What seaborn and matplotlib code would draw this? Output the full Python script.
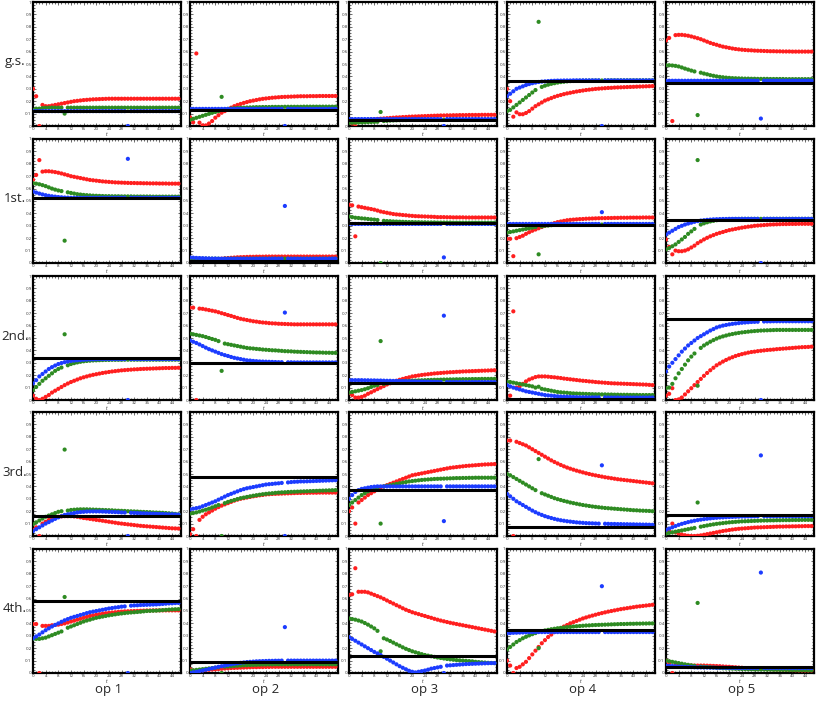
import numpy as np
import pandas as pd
import matplotlib
matplotlib.use("Agg")
import matplotlib.pyplot as plt
from matplotlib.ticker import MultipleLocator, FuncFormatter
import seaborn as sns

t = list(range(47))

# ---------------- g.s. ----------------
gs_op1_red = [0.30, 0.24, 0.00, 0.17, 0.16, 0.16, 0.165, 0.17, 0.175, 0.18, 0.185, 0.19,
              0.195, 0.20, 0.203, 0.206, 0.209, 0.211, 0.213, 0.215, 0.216, 0.217, 0.218, 0.219,
              0.22, 0.22, 0.22, 0.22, 0.22, 0.22, 0.22, 0.22, 0.22, 0.22, 0.22, 0.22,
              0.22, 0.22, 0.22, 0.22, 0.22, 0.22, 0.22, 0.22, 0.22, 0.22, 0.22]
gs_op1_green = [0.13, 0.14, 0.14, 0.145, 0.147, 0.148, 0.148, 0.148, 0.148, 0.148, 0.10, 0.148,
                0.148, 0.148, 0.148, 0.148, 0.148, 0.148, 0.148, 0.148, 0.148, 0.148, 0.148, 0.148,
                0.148, 0.148, 0.148, 0.148, 0.148, 0.148, 0.148, 0.148, 0.148, 0.148, 0.148, 0.148,
                0.148, 0.148, 0.148, 0.148, 0.148, 0.148, 0.148, 0.148, 0.148, 0.148, 0.148]
gs_op1_blue = [0.12, 0.12, 0.12, 0.12, 0.12, 0.12, 0.12, 0.12, 0.12, 0.12, 0.12, 0.12,
               0.12, 0.12, 0.12, 0.12, 0.12, 0.12, 0.12, 0.12, 0.12, 0.12, 0.12, 0.12,
               0.12, 0.12, 0.12, 0.12, 0.12, 0.12, 0.00, 0.12, 0.12, 0.12, 0.12, 0.12,
               0.12, 0.12, 0.12, 0.12, 0.12, 0.12, 0.12, 0.12, 0.12, 0.12, 0.12]
gs_op1_black = 0.125

gs_op2_red = [0.07, 0.03, 0.585, 0.027, 0.005, 0.005, 0.02, 0.04, 0.067, 0.087, 0.107, 0.12,
              0.135, 0.148, 0.16, 0.17, 0.178, 0.186, 0.193, 0.20, 0.205, 0.21, 0.215, 0.219,
              0.222, 0.225, 0.228, 0.23, 0.232, 0.234, 0.235, 0.236, 0.237, 0.238, 0.239, 0.24,
              0.24, 0.24, 0.241, 0.241, 0.241, 0.242, 0.242, 0.242, 0.242, 0.242, 0.242]
gs_op2_green = [0.05, 0.058, 0.066, 0.074, 0.082, 0.09, 0.098, 0.106, 0.113, 0.12, 0.235, 0.135,
                0.138, 0.141, 0.143, 0.145, 0.147, 0.148, 0.149, 0.15, 0.151, 0.152, 0.152, 0.153,
                0.153, 0.153, 0.154, 0.154, 0.154, 0.154, 0.155, 0.155, 0.155, 0.155, 0.155, 0.155,
                0.156, 0.156, 0.156, 0.156, 0.156, 0.156, 0.156, 0.156, 0.156, 0.156, 0.156]
gs_op2_blue = [0.138, 0.138, 0.138, 0.138, 0.138, 0.138, 0.138, 0.138, 0.138, 0.138, 0.138, 0.138,
               0.138, 0.138, 0.138, 0.138, 0.138, 0.138, 0.138, 0.138, 0.138, 0.138, 0.138, 0.138,
               0.138, 0.138, 0.138, 0.138, 0.138, 0.138, 0.00, 0.138, 0.138, 0.138, 0.138, 0.138,
               0.138, 0.138, 0.138, 0.138, 0.138, 0.138, 0.138, 0.138, 0.138, 0.138, 0.138]
gs_op2_black = 0.133

gs_op3_red = [0.04, 0.02, 0.00, 0.04, 0.045, 0.048, 0.05, 0.053, 0.055, 0.057, 0.059, 0.061,
              0.063, 0.065, 0.067, 0.069, 0.07, 0.072, 0.073, 0.075, 0.076, 0.077, 0.078, 0.079,
              0.08, 0.081, 0.082, 0.083, 0.084, 0.085, 0.085, 0.086, 0.086, 0.087, 0.087, 0.088,
              0.088, 0.088, 0.089, 0.089, 0.089, 0.089, 0.09, 0.09, 0.09, 0.09, 0.09]
gs_op3_green = [0.025, 0.026, 0.027, 0.028, 0.029, 0.03, 0.031, 0.032, 0.033, 0.034, 0.113, 0.04,
                0.042, 0.044, 0.045, 0.046, 0.047, 0.048, 0.048, 0.049, 0.049, 0.05, 0.05, 0.05,
                0.05, 0.05, 0.05, 0.05, 0.05, 0.05, 0.05, 0.05, 0.05, 0.05, 0.05, 0.05,
                0.05, 0.05, 0.05, 0.05, 0.05, 0.05, 0.05, 0.05, 0.05, 0.05, 0.05]
gs_op3_blue = [0.056, 0.056, 0.056, 0.056, 0.056, 0.056, 0.056, 0.056, 0.056, 0.056, 0.056, 0.056,
               0.056, 0.056, 0.056, 0.056, 0.056, 0.056, 0.056, 0.056, 0.056, 0.056, 0.056, 0.056,
               0.056, 0.056, 0.056, 0.056, 0.056, 0.056, 0.00, 0.056, 0.056, 0.056, 0.056, 0.056,
               0.056, 0.056, 0.056, 0.056, 0.056, 0.056, 0.056, 0.056, 0.056, 0.056, 0.056]
gs_op3_black = 0.05

gs_op4_red = [0.30, 0.20, 0.075, 0.11, 0.095, 0.095, 0.105, 0.12, 0.14, 0.16, 0.175, 0.19,
              0.205, 0.215, 0.225, 0.235, 0.243, 0.25, 0.257, 0.263, 0.268, 0.273, 0.278, 0.282,
              0.286, 0.29, 0.293, 0.296, 0.299, 0.301, 0.303, 0.305, 0.307, 0.308, 0.31, 0.311,
              0.312, 0.313, 0.314, 0.315, 0.316, 0.317, 0.318, 0.319, 0.32, 0.321, 0.322]
gs_op4_green = [0.12, 0.13, 0.15, 0.17, 0.19, 0.21, 0.23, 0.25, 0.27, 0.29, 0.84, 0.315,
                0.325, 0.333, 0.34, 0.345, 0.35, 0.354, 0.357, 0.36, 0.362, 0.363, 0.364, 0.365,
                0.366, 0.366, 0.366, 0.367, 0.367, 0.367, 0.367, 0.367, 0.368, 0.368, 0.368, 0.368,
                0.368, 0.368, 0.368, 0.368, 0.368, 0.368, 0.368, 0.368, 0.368, 0.368, 0.368]
gs_op4_blue = [0.24, 0.26, 0.28, 0.30, 0.31, 0.32, 0.33, 0.338, 0.345, 0.35, 0.355, 0.358,
               0.36, 0.362, 0.364, 0.365, 0.366, 0.366, 0.367, 0.367, 0.367, 0.368, 0.368, 0.368,
               0.368, 0.368, 0.368, 0.368, 0.368, 0.368, 0.00, 0.368, 0.368, 0.368, 0.368, 0.368,
               0.368, 0.368, 0.368, 0.368, 0.368, 0.368, 0.368, 0.368, 0.368, 0.368, 0.368]
gs_op4_black = 0.36

gs_op5_red = [0.69, 0.71, 0.04, 0.733, 0.735, 0.735, 0.732, 0.728, 0.722, 0.715, 0.708, 0.70,
              0.69, 0.68, 0.67, 0.662, 0.655, 0.647, 0.64, 0.635, 0.63, 0.625, 0.621, 0.618,
              0.615, 0.613, 0.611, 0.61, 0.608, 0.607, 0.606, 0.605, 0.604, 0.603, 0.603, 0.602,
              0.602, 0.601, 0.601, 0.601, 0.60, 0.60, 0.60, 0.60, 0.60, 0.60, 0.60]
gs_op5_green = [0.49, 0.49, 0.488, 0.485, 0.48, 0.472, 0.463, 0.455, 0.447, 0.44, 0.088, 0.43,
                0.423, 0.417, 0.41, 0.405, 0.40, 0.396, 0.393, 0.39, 0.388, 0.386, 0.385, 0.384,
                0.383, 0.382, 0.382, 0.381, 0.381, 0.38, 0.38, 0.38, 0.38, 0.379, 0.379, 0.379,
                0.379, 0.379, 0.378, 0.378, 0.378, 0.378, 0.378, 0.378, 0.378, 0.378, 0.378]
gs_op5_blue = [0.365, 0.365, 0.365, 0.365, 0.365, 0.365, 0.365, 0.365, 0.365, 0.365, 0.365, 0.365,
               0.365, 0.365, 0.365, 0.365, 0.365, 0.365, 0.365, 0.365, 0.365, 0.365, 0.365, 0.365,
               0.365, 0.365, 0.365, 0.365, 0.365, 0.365, 0.06, 0.365, 0.365, 0.365, 0.365, 0.365,
               0.365, 0.365, 0.365, 0.365, 0.365, 0.365, 0.365, 0.365, 0.365, 0.365, 0.365]
gs_op5_black = 0.35

# ---------------- 1st. ----------------
st_op1_red = [0.67, 0.71, 0.83, 0.737, 0.74, 0.74, 0.737, 0.733, 0.728, 0.722, 0.715, 0.708,
              0.70, 0.695, 0.69, 0.685, 0.68, 0.675, 0.67, 0.667, 0.664, 0.661, 0.658, 0.656,
              0.654, 0.652, 0.65, 0.649, 0.648, 0.647, 0.646, 0.645, 0.645, 0.644, 0.644, 0.643,
              0.643, 0.642, 0.642, 0.642, 0.641, 0.641, 0.641, 0.64, 0.64, 0.64, 0.64]
st_op1_green = [0.643, 0.64, 0.635, 0.628, 0.62, 0.61, 0.60, 0.592, 0.585, 0.58, 0.18, 0.57,
                0.565, 0.56, 0.555, 0.552, 0.549, 0.547, 0.545, 0.543, 0.542, 0.541, 0.54, 0.539,
                0.539, 0.538, 0.538, 0.538, 0.537, 0.537, 0.537, 0.537, 0.536, 0.536, 0.536, 0.536,
                0.536, 0.536, 0.535, 0.535, 0.535, 0.535, 0.535, 0.535, 0.535, 0.535, 0.535]
st_op1_blue = [0.576, 0.568, 0.56, 0.553, 0.547, 0.542, 0.538, 0.535, 0.532, 0.53, 0.528, 0.527,
               0.526, 0.526, 0.526, 0.526, 0.526, 0.526, 0.526, 0.526, 0.526, 0.526, 0.526, 0.526,
               0.526, 0.526, 0.526, 0.526, 0.526, 0.526, 0.84, 0.526, 0.526, 0.526, 0.526, 0.526,
               0.526, 0.526, 0.526, 0.526, 0.526, 0.526, 0.526, 0.526, 0.526, 0.526, 0.526]
st_op1_black = 0.523

st_op2_red = [0.02, 0.015, 0.005, 0.01, 0.015, 0.018, 0.02, 0.025, 0.03, 0.032, 0.035, 0.038,
              0.04, 0.042, 0.044, 0.046, 0.047, 0.048, 0.049, 0.05, 0.05, 0.051, 0.051, 0.051,
              0.052, 0.052, 0.052, 0.052, 0.052, 0.052, 0.052, 0.052, 0.052, 0.052, 0.052, 0.052,
              0.052, 0.052, 0.052, 0.052, 0.052, 0.052, 0.052, 0.052, 0.052, 0.052, 0.052]
st_op2_green = [0.035, 0.035, 0.035, 0.035, 0.035, 0.035, 0.035, 0.035, 0.035, 0.035, 0.0, 0.035,
                0.035, 0.035, 0.035, 0.035, 0.035, 0.035, 0.035, 0.035, 0.035, 0.035, 0.035, 0.035,
                0.035, 0.035, 0.035, 0.035, 0.035, 0.035, 0.035, 0.035, 0.035, 0.035, 0.035, 0.035,
                0.035, 0.035, 0.035, 0.035, 0.035, 0.035, 0.035, 0.035, 0.035, 0.035, 0.035]
st_op2_blue = [0.045, 0.043, 0.041, 0.04, 0.039, 0.038, 0.037, 0.036, 0.036, 0.035, 0.035, 0.035,
               0.035, 0.035, 0.035, 0.035, 0.035, 0.035, 0.035, 0.035, 0.035, 0.035, 0.035, 0.035,
               0.035, 0.035, 0.035, 0.035, 0.035, 0.035, 0.46, 0.035, 0.035, 0.035, 0.035, 0.035,
               0.035, 0.035, 0.035, 0.035, 0.035, 0.035, 0.035, 0.035, 0.035, 0.035, 0.035]
st_op2_black = 0.013

st_op3_red = [0.47, 0.465, 0.215, 0.455, 0.45, 0.445, 0.44, 0.435, 0.43, 0.423, 0.415, 0.41,
              0.405, 0.40, 0.395, 0.392, 0.39, 0.387, 0.385, 0.382, 0.38, 0.378, 0.377, 0.376,
              0.375, 0.374, 0.373, 0.372, 0.37, 0.37, 0.37, 0.369, 0.369, 0.368, 0.368, 0.368,
              0.368, 0.367, 0.367, 0.367, 0.367, 0.367, 0.367, 0.367, 0.367, 0.367, 0.367]
st_op3_green = [0.375, 0.37, 0.365, 0.363, 0.36, 0.358, 0.355, 0.352, 0.35, 0.347, 0.0, 0.34,
                0.338, 0.337, 0.335, 0.334, 0.333, 0.332, 0.331, 0.33, 0.33, 0.329, 0.329, 0.328,
                0.328, 0.327, 0.327, 0.327, 0.326, 0.326, 0.326, 0.326, 0.326, 0.325, 0.325, 0.325,
                0.325, 0.325, 0.325, 0.325, 0.325, 0.325, 0.325, 0.325, 0.325, 0.325, 0.325]
st_op3_blue = [0.315, 0.315, 0.315, 0.315, 0.315, 0.315, 0.315, 0.315, 0.315, 0.315, 0.315, 0.315,
               0.315, 0.315, 0.315, 0.315, 0.315, 0.315, 0.315, 0.315, 0.315, 0.315, 0.315, 0.315,
               0.315, 0.315, 0.315, 0.315, 0.315, 0.315, 0.045, 0.315, 0.315, 0.315, 0.315, 0.315,
               0.315, 0.315, 0.315, 0.315, 0.315, 0.315, 0.315, 0.315, 0.315, 0.315, 0.315]
st_op3_black = 0.32

st_op4_red = [0.195, 0.195, 0.055, 0.20, 0.21, 0.22, 0.235, 0.248, 0.26, 0.27, 0.28, 0.29,
              0.30, 0.308, 0.315, 0.322, 0.33, 0.335, 0.34, 0.345, 0.348, 0.35, 0.352, 0.354,
              0.355, 0.357, 0.358, 0.359, 0.36, 0.361, 0.362, 0.362, 0.363, 0.363, 0.364, 0.364,
              0.365, 0.365, 0.365, 0.366, 0.366, 0.366, 0.366, 0.367, 0.367, 0.367, 0.367]
st_op4_green = [0.245, 0.25, 0.255, 0.26, 0.265, 0.27, 0.275, 0.28, 0.285, 0.29, 0.07, 0.295,
                0.30, 0.302, 0.305, 0.307, 0.308, 0.309, 0.31, 0.31, 0.31, 0.31, 0.31, 0.31,
                0.31, 0.31, 0.31, 0.31, 0.31, 0.31, 0.31, 0.31, 0.31, 0.31, 0.31, 0.31,
                0.31, 0.31, 0.31, 0.31, 0.31, 0.31, 0.31, 0.31, 0.31, 0.31, 0.31]
st_op4_blue = [0.315, 0.315, 0.315, 0.315, 0.315, 0.315, 0.315, 0.315, 0.315, 0.315, 0.315, 0.315,
               0.315, 0.315, 0.315, 0.315, 0.315, 0.315, 0.315, 0.315, 0.315, 0.315, 0.315, 0.315,
               0.315, 0.315, 0.315, 0.315, 0.315, 0.315, 0.41, 0.315, 0.315, 0.315, 0.315, 0.315,
               0.315, 0.315, 0.315, 0.315, 0.315, 0.315, 0.315, 0.315, 0.315, 0.315, 0.315]
st_op4_black = 0.303

st_op5_red = [0.19, 0.13, 0.07, 0.10, 0.095, 0.095, 0.10, 0.11, 0.125, 0.14, 0.16, 0.175,
              0.19, 0.203, 0.215, 0.225, 0.235, 0.243, 0.25, 0.258, 0.265, 0.27, 0.275, 0.28,
              0.285, 0.289, 0.293, 0.296, 0.30, 0.302, 0.304, 0.306, 0.308, 0.31, 0.311, 0.312,
              0.313, 0.314, 0.314, 0.315, 0.315, 0.315, 0.316, 0.316, 0.316, 0.316, 0.316]
st_op5_green = [0.11, 0.12, 0.135, 0.15, 0.17, 0.19, 0.21, 0.235, 0.255, 0.275, 0.83, 0.31,
                0.32, 0.328, 0.335, 0.34, 0.345, 0.348, 0.35, 0.352, 0.353, 0.354, 0.355, 0.355,
                0.356, 0.356, 0.356, 0.356, 0.356, 0.356, 0.356, 0.356, 0.356, 0.356, 0.356, 0.356,
                0.356, 0.356, 0.356, 0.356, 0.356, 0.356, 0.356, 0.356, 0.356, 0.356, 0.356]
st_op5_blue = [0.23, 0.245, 0.26, 0.275, 0.29, 0.30, 0.31, 0.318, 0.325, 0.332, 0.338, 0.342,
               0.345, 0.348, 0.35, 0.352, 0.353, 0.354, 0.355, 0.355, 0.356, 0.356, 0.356, 0.356,
               0.356, 0.356, 0.356, 0.356, 0.356, 0.356, 0.0, 0.356, 0.356, 0.356, 0.356, 0.356,
               0.356, 0.356, 0.356, 0.356, 0.356, 0.356, 0.356, 0.356, 0.356, 0.356, 0.356]
st_op5_black = 0.35

# ---------------- 2nd. ----------------
nd_op1_red = [0.035, 0.01, 0.0, 0.01, 0.025, 0.04, 0.06, 0.075, 0.09, 0.105, 0.12, 0.133,
              0.145, 0.155, 0.165, 0.175, 0.183, 0.19, 0.197, 0.203, 0.208, 0.213, 0.218, 0.222,
              0.226, 0.23, 0.233, 0.236, 0.239, 0.241, 0.243, 0.245, 0.247, 0.248, 0.25, 0.251,
              0.252, 0.253, 0.254, 0.255, 0.256, 0.257, 0.258, 0.258, 0.259, 0.259, 0.26]
nd_op1_green = [0.08, 0.105, 0.13, 0.155, 0.175, 0.195, 0.215, 0.235, 0.25, 0.262, 0.53, 0.28,
                0.29, 0.297, 0.303, 0.308, 0.312, 0.315, 0.317, 0.319, 0.32, 0.321, 0.322, 0.323,
                0.323, 0.324, 0.324, 0.324, 0.324, 0.325, 0.325, 0.325, 0.325, 0.325, 0.325, 0.325,
                0.325, 0.325, 0.325, 0.325, 0.325, 0.325, 0.325, 0.325, 0.325, 0.325, 0.325]
nd_op1_blue = [0.134, 0.16, 0.19, 0.21, 0.23, 0.25, 0.265, 0.278, 0.29, 0.298, 0.305, 0.31,
               0.315, 0.318, 0.32, 0.322, 0.324, 0.326, 0.327, 0.328, 0.329, 0.33, 0.33, 0.33,
               0.33, 0.33, 0.33, 0.33, 0.33, 0.33, 0.0, 0.33, 0.33, 0.33, 0.33, 0.33,
               0.33, 0.33, 0.33, 0.33, 0.33, 0.33, 0.33, 0.33, 0.33, 0.33, 0.33]
nd_op1_black = 0.335

nd_op2_red = [0.745, 0.745, 0.0, 0.737, 0.735, 0.73, 0.725, 0.72, 0.715, 0.708, 0.70, 0.693,
              0.685, 0.678, 0.67, 0.662, 0.655, 0.65, 0.645, 0.64, 0.635, 0.632, 0.628, 0.625,
              0.623, 0.62, 0.618, 0.617, 0.615, 0.614, 0.613, 0.612, 0.611, 0.61, 0.61, 0.61,
              0.61, 0.61, 0.61, 0.61, 0.61, 0.61, 0.61, 0.61, 0.61, 0.61, 0.61]
nd_op2_green = [0.535, 0.53, 0.525, 0.52, 0.515, 0.508, 0.50, 0.492, 0.485, 0.475, 0.235, 0.455,
                0.45, 0.445, 0.44, 0.435, 0.43, 0.425, 0.42, 0.417, 0.415, 0.412, 0.41, 0.407,
                0.405, 0.403, 0.401, 0.40, 0.398, 0.396, 0.394, 0.393, 0.392, 0.39, 0.389, 0.388,
                0.387, 0.386, 0.385, 0.384, 0.383, 0.383, 0.382, 0.381, 0.381, 0.38, 0.38]
nd_op2_blue = [0.48, 0.47, 0.46, 0.448, 0.435, 0.422, 0.41, 0.40, 0.39, 0.38, 0.37, 0.362,
               0.355, 0.347, 0.34, 0.335, 0.33, 0.325, 0.32, 0.318, 0.315, 0.313, 0.311, 0.31,
               0.309, 0.308, 0.307, 0.306, 0.305, 0.305, 0.705, 0.304, 0.304, 0.303, 0.303, 0.303,
               0.303, 0.303, 0.303, 0.303, 0.303, 0.303, 0.303, 0.303, 0.303, 0.303, 0.303]
nd_op2_black = 0.30

nd_op3_red = [0.055, 0.04, 0.02, 0.02, 0.025, 0.035, 0.05, 0.062, 0.075, 0.088, 0.10, 0.112,
              0.125, 0.135, 0.145, 0.155, 0.163, 0.17, 0.177, 0.183, 0.19, 0.194, 0.198, 0.202,
              0.205, 0.208, 0.211, 0.214, 0.216, 0.218, 0.22, 0.222, 0.224, 0.225, 0.227, 0.228,
              0.23, 0.231, 0.232, 0.233, 0.234, 0.235, 0.236, 0.237, 0.238, 0.239, 0.24]
nd_op3_green = [0.06, 0.065, 0.07, 0.075, 0.08, 0.087, 0.095, 0.105, 0.115, 0.12, 0.475, 0.13,
                0.135, 0.14, 0.145, 0.148, 0.15, 0.152, 0.154, 0.155, 0.156, 0.157, 0.158, 0.159,
                0.16, 0.161, 0.162, 0.163, 0.163, 0.164, 0.165, 0.165, 0.166, 0.166, 0.167, 0.167,
                0.168, 0.168, 0.168, 0.169, 0.169, 0.169, 0.17, 0.17, 0.17, 0.17, 0.17]
nd_op3_blue = [0.16, 0.16, 0.16, 0.16, 0.16, 0.159, 0.159, 0.158, 0.158, 0.157, 0.157, 0.156,
               0.155, 0.155, 0.154, 0.154, 0.153, 0.152, 0.152, 0.151, 0.15, 0.15, 0.149, 0.149,
               0.148, 0.148, 0.147, 0.147, 0.146, 0.146, 0.68, 0.145, 0.145, 0.145, 0.145, 0.145,
               0.145, 0.145, 0.145, 0.145, 0.145, 0.145, 0.145, 0.145, 0.145, 0.145, 0.145]
nd_op3_black = 0.14

nd_op4_red = [0.0, 0.035, 0.715, 0.10, 0.11, 0.13, 0.15, 0.165, 0.175, 0.185, 0.19, 0.19,
              0.19, 0.188, 0.185, 0.183, 0.18, 0.177, 0.173, 0.17, 0.167, 0.164, 0.161, 0.158,
              0.155, 0.153, 0.15, 0.148, 0.145, 0.143, 0.141, 0.139, 0.137, 0.135, 0.134, 0.133,
              0.132, 0.131, 0.13, 0.129, 0.128, 0.127, 0.126, 0.125, 0.124, 0.122, 0.12]
nd_op4_green = [0.148, 0.145, 0.14, 0.135, 0.13, 0.125, 0.12, 0.115, 0.11, 0.10, 0.107, 0.09,
                0.085, 0.08, 0.075, 0.07, 0.065, 0.062, 0.06, 0.058, 0.055, 0.053, 0.052, 0.051,
                0.05, 0.049, 0.048, 0.047, 0.046, 0.046, 0.045, 0.045, 0.044, 0.044, 0.043, 0.043,
                0.042, 0.042, 0.042, 0.041, 0.041, 0.041, 0.04, 0.04, 0.04, 0.04, 0.04]
nd_op4_blue = [0.12, 0.11, 0.10, 0.092, 0.085, 0.078, 0.07, 0.065, 0.06, 0.055, 0.05, 0.045,
               0.04, 0.037, 0.035, 0.032, 0.03, 0.028, 0.027, 0.026, 0.025, 0.024, 0.023, 0.022,
               0.022, 0.022, 0.021, 0.021, 0.021, 0.021, 0.0, 0.021, 0.02, 0.02, 0.02, 0.02,
               0.02, 0.02, 0.02, 0.02, 0.02, 0.02, 0.02, 0.02, 0.02, 0.02, 0.02]
nd_op4_black = 0.01

nd_op5_red = [0.035, 0.05, 0.095, 0.0, 0.005, 0.02, 0.045, 0.07, 0.095, 0.12, 0.145, 0.17,
              0.195, 0.218, 0.24, 0.26, 0.28, 0.295, 0.31, 0.323, 0.335, 0.345, 0.355, 0.363,
              0.37, 0.376, 0.382, 0.387, 0.39, 0.394, 0.397, 0.40, 0.403, 0.405, 0.407, 0.41,
              0.412, 0.414, 0.416, 0.418, 0.42, 0.422, 0.424, 0.426, 0.427, 0.428, 0.43]
nd_op5_green = [0.095, 0.10, 0.13, 0.175, 0.215, 0.25, 0.285, 0.32, 0.35, 0.375, 0.115, 0.42,
                0.44, 0.455, 0.47, 0.483, 0.495, 0.505, 0.513, 0.52, 0.527, 0.532, 0.537, 0.541,
                0.545, 0.548, 0.551, 0.554, 0.556, 0.558, 0.56, 0.561, 0.562, 0.563, 0.564, 0.565,
                0.565, 0.565, 0.565, 0.565, 0.565, 0.565, 0.565, 0.565, 0.565, 0.565, 0.565]
nd_op5_blue = [0.23, 0.27, 0.30, 0.33, 0.36, 0.39, 0.415, 0.44, 0.46, 0.48, 0.50, 0.515,
               0.53, 0.545, 0.56, 0.572, 0.585, 0.593, 0.60, 0.605, 0.61, 0.614, 0.617, 0.62,
               0.623, 0.625, 0.627, 0.629, 0.63, 0.631, 0.0, 0.633, 0.634, 0.634, 0.635, 0.635,
               0.635, 0.635, 0.635, 0.635, 0.635, 0.635, 0.635, 0.635, 0.635, 0.635, 0.635]
nd_op5_black = 0.65

# ---------------- 3rd. ----------------
rd_op1_red = [0.05, 0.07, 0.0, 0.10, 0.115, 0.13, 0.14, 0.148, 0.155, 0.158, 0.16, 0.16,
              0.16, 0.158, 0.155, 0.15, 0.145, 0.142, 0.138, 0.134, 0.13, 0.127, 0.123, 0.119,
              0.115, 0.111, 0.107, 0.103, 0.1, 0.097, 0.094, 0.091, 0.088, 0.085, 0.082, 0.08,
              0.078, 0.076, 0.074, 0.072, 0.07, 0.068, 0.066, 0.064, 0.062, 0.061, 0.06]
rd_op1_green = [0.095, 0.11, 0.125, 0.14, 0.155, 0.165, 0.175, 0.185, 0.195, 0.2, 0.697, 0.205,
                0.21, 0.212, 0.214, 0.215, 0.215, 0.215, 0.214, 0.213, 0.212, 0.211, 0.21, 0.209,
                0.208, 0.207, 0.205, 0.204, 0.203, 0.202, 0.2, 0.199, 0.198, 0.197, 0.195, 0.194,
                0.193, 0.192, 0.19, 0.189, 0.188, 0.187, 0.185, 0.183, 0.181, 0.178, 0.175]
rd_op1_blue = [0.04, 0.055, 0.07, 0.085, 0.10, 0.112, 0.125, 0.138, 0.15, 0.16, 0.17, 0.175,
               0.18, 0.185, 0.19, 0.193, 0.195, 0.197, 0.198, 0.198, 0.198, 0.198, 0.197, 0.196,
               0.195, 0.194, 0.193, 0.192, 0.19, 0.189, 0.0, 0.187, 0.186, 0.185, 0.184, 0.183,
               0.182, 0.181, 0.18, 0.179, 0.178, 0.177, 0.176, 0.175, 0.175, 0.174, 0.173]
rd_op1_black = 0.16

rd_op2_red = [0.015, 0.055, 0.0, 0.13, 0.155, 0.175, 0.19, 0.205, 0.22, 0.233, 0.245, 0.255,
              0.265, 0.275, 0.285, 0.293, 0.30, 0.305, 0.31, 0.315, 0.32, 0.324, 0.328, 0.331,
              0.335, 0.337, 0.339, 0.34, 0.341, 0.342, 0.343, 0.344, 0.345, 0.346, 0.347, 0.347,
              0.348, 0.348, 0.349, 0.349, 0.349, 0.35, 0.35, 0.35, 0.35, 0.35, 0.35]
rd_op2_green = [0.18, 0.185, 0.19, 0.197, 0.205, 0.212, 0.22, 0.23, 0.24, 0.25, 0.0, 0.265,
                0.275, 0.283, 0.29, 0.298, 0.305, 0.31, 0.315, 0.32, 0.325, 0.329, 0.333, 0.337,
                0.34, 0.343, 0.345, 0.348, 0.35, 0.352, 0.353, 0.355, 0.356, 0.357, 0.358, 0.359,
                0.36, 0.361, 0.362, 0.363, 0.364, 0.365, 0.366, 0.367, 0.368, 0.369, 0.37]
rd_op2_blue = [0.215, 0.22, 0.225, 0.23, 0.24, 0.25, 0.26, 0.27, 0.28, 0.293, 0.305, 0.318,
               0.33, 0.34, 0.35, 0.36, 0.37, 0.378, 0.385, 0.39, 0.395, 0.40, 0.405, 0.41,
               0.415, 0.418, 0.42, 0.423, 0.425, 0.428, 0.0, 0.432, 0.435, 0.437, 0.438, 0.44,
               0.44, 0.441, 0.442, 0.443, 0.444, 0.445, 0.446, 0.447, 0.448, 0.449, 0.45]
rd_op2_black = 0.475

rd_op3_red = [0.20, 0.23, 0.10, 0.27, 0.29, 0.31, 0.33, 0.345, 0.36, 0.375, 0.39, 0.40,
              0.41, 0.42, 0.43, 0.44, 0.45, 0.46, 0.47, 0.48, 0.49, 0.495, 0.50, 0.505,
              0.51, 0.515, 0.52, 0.525, 0.53, 0.535, 0.54, 0.545, 0.55, 0.553, 0.556, 0.559,
              0.562, 0.565, 0.567, 0.569, 0.571, 0.573, 0.575, 0.577, 0.578, 0.579, 0.58]
rd_op3_green = [0.25, 0.27, 0.29, 0.31, 0.33, 0.345, 0.36, 0.37, 0.38, 0.39, 0.10, 0.40,
                0.405, 0.41, 0.415, 0.42, 0.425, 0.43, 0.435, 0.44, 0.443, 0.446, 0.449, 0.452,
                0.454, 0.456, 0.458, 0.46, 0.461, 0.462, 0.463, 0.464, 0.465, 0.466, 0.467, 0.467,
                0.468, 0.468, 0.469, 0.469, 0.47, 0.47, 0.47, 0.47, 0.47, 0.47, 0.47]
rd_op3_blue = [0.30, 0.33, 0.355, 0.37, 0.38, 0.385, 0.39, 0.395, 0.398, 0.40, 0.40, 0.40,
               0.40, 0.40, 0.40, 0.40, 0.40, 0.40, 0.40, 0.40, 0.40, 0.40, 0.40, 0.40,
               0.40, 0.40, 0.40, 0.40, 0.40, 0.40, 0.12, 0.40, 0.40, 0.40, 0.40, 0.40,
               0.40, 0.40, 0.40, 0.40, 0.40, 0.40, 0.40, 0.40, 0.40, 0.40, 0.40]
rd_op3_black = 0.37

rd_op4_red = [0.77, 0.77, 0.0, 0.76, 0.75, 0.74, 0.73, 0.715, 0.70, 0.685, 0.67, 0.655,
              0.64, 0.625, 0.61, 0.597, 0.585, 0.573, 0.562, 0.552, 0.543, 0.535, 0.527, 0.52,
              0.513, 0.506, 0.5, 0.494, 0.489, 0.484, 0.479, 0.474, 0.47, 0.466, 0.462, 0.458,
              0.455, 0.452, 0.449, 0.446, 0.443, 0.44, 0.437, 0.434, 0.431, 0.428, 0.425]
rd_op4_green = [0.50, 0.49, 0.475, 0.46, 0.445, 0.43, 0.415, 0.40, 0.385, 0.37, 0.62, 0.345,
                0.335, 0.325, 0.315, 0.305, 0.297, 0.29, 0.283, 0.277, 0.27, 0.265, 0.26, 0.255,
                0.25, 0.246, 0.242, 0.238, 0.235, 0.232, 0.229, 0.226, 0.224, 0.222, 0.22, 0.218,
                0.216, 0.214, 0.212, 0.21, 0.208, 0.207, 0.205, 0.204, 0.203, 0.202, 0.20]
rd_op4_blue = [0.34, 0.32, 0.30, 0.28, 0.265, 0.25, 0.235, 0.22, 0.205, 0.192, 0.18, 0.17,
               0.16, 0.152, 0.145, 0.138, 0.132, 0.127, 0.123, 0.119, 0.116, 0.113, 0.11, 0.108,
               0.106, 0.104, 0.103, 0.102, 0.101, 0.1, 0.57, 0.099, 0.098, 0.097, 0.097, 0.096,
               0.096, 0.095, 0.095, 0.094, 0.094, 0.093, 0.093, 0.092, 0.092, 0.091, 0.09]
rd_op4_black = 0.07

rd_op5_red = [0.05, 0.04, 0.10, 0.03, 0.02, 0.012, 0.006, 0.002, 0.0, 0.0, 0.002, 0.005,
              0.01, 0.015, 0.02, 0.025, 0.03, 0.035, 0.04, 0.044, 0.048, 0.052, 0.055, 0.058,
              0.06, 0.062, 0.064, 0.066, 0.068, 0.069, 0.07, 0.071, 0.072, 0.073, 0.074, 0.075,
              0.076, 0.076, 0.077, 0.077, 0.078, 0.078, 0.079, 0.079, 0.08, 0.08, 0.08]
rd_op5_green = [0.02, 0.025, 0.03, 0.035, 0.04, 0.045, 0.05, 0.055, 0.06, 0.065, 0.27, 0.075,
                0.08, 0.085, 0.09, 0.094, 0.098, 0.101, 0.104, 0.107, 0.11, 0.112, 0.114, 0.116,
                0.118, 0.119, 0.12, 0.121, 0.122, 0.123, 0.124, 0.125, 0.125, 0.126, 0.126, 0.127,
                0.127, 0.128, 0.128, 0.128, 0.129, 0.129, 0.129, 0.13, 0.13, 0.13, 0.13]
rd_op5_blue = [0.05, 0.06, 0.07, 0.08, 0.09, 0.098, 0.105, 0.112, 0.118, 0.123, 0.128, 0.132,
               0.136, 0.139, 0.142, 0.145, 0.147, 0.149, 0.15, 0.152, 0.153, 0.154, 0.155, 0.156,
               0.157, 0.157, 0.158, 0.158, 0.159, 0.159, 0.65, 0.16, 0.16, 0.16, 0.16, 0.16,
               0.16, 0.16, 0.16, 0.16, 0.16, 0.16, 0.16, 0.16, 0.16, 0.16, 0.16]
rd_op5_black = 0.17

# ---------------- 4th. ----------------
th_op1_red = [0.395, 0.395, 0.0, 0.38, 0.38, 0.38, 0.385, 0.387, 0.39, 0.395, 0.40, 0.407,
              0.415, 0.422, 0.43, 0.437, 0.445, 0.452, 0.46, 0.465, 0.47, 0.474, 0.478, 0.482,
              0.485, 0.488, 0.49, 0.493, 0.495, 0.497, 0.498, 0.499, 0.50, 0.501, 0.502, 0.503,
              0.504, 0.504, 0.505, 0.505, 0.505, 0.505, 0.505, 0.505, 0.505, 0.505, 0.505]
th_op1_green = [0.275, 0.275, 0.275, 0.28, 0.285, 0.295, 0.305, 0.315, 0.325, 0.335, 0.613, 0.365,
                0.375, 0.385, 0.395, 0.405, 0.415, 0.423, 0.43, 0.438, 0.445, 0.45, 0.455, 0.46,
                0.465, 0.469, 0.473, 0.477, 0.48, 0.483, 0.486, 0.488, 0.49, 0.492, 0.494, 0.497,
                0.50, 0.501, 0.502, 0.503, 0.505, 0.507, 0.509, 0.511, 0.513, 0.514, 0.515]
th_op1_blue = [0.28, 0.295, 0.31, 0.328, 0.345, 0.36, 0.375, 0.388, 0.40, 0.413, 0.425, 0.435,
               0.445, 0.453, 0.46, 0.468, 0.475, 0.483, 0.49, 0.495, 0.50, 0.505, 0.51, 0.515,
               0.52, 0.524, 0.528, 0.531, 0.535, 0.537, 0.0, 0.543, 0.545, 0.546, 0.548, 0.549,
               0.55, 0.551, 0.552, 0.553, 0.555, 0.557, 0.559, 0.561, 0.562, 0.564, 0.565]
th_op1_black = 0.578

th_op2_red = [0.03, 0.02, 0.0, 0.02, 0.022, 0.024, 0.026, 0.028, 0.03, 0.032, 0.034, 0.036,
              0.038, 0.04, 0.041, 0.042, 0.043, 0.044, 0.045, 0.046, 0.047, 0.047, 0.048, 0.048,
              0.049, 0.049, 0.05, 0.05, 0.05, 0.05, 0.05, 0.05, 0.05, 0.05, 0.05, 0.05,
              0.05, 0.05, 0.05, 0.05, 0.05, 0.05, 0.05, 0.05, 0.05, 0.05, 0.05]
th_op2_green = [0.02, 0.022, 0.025, 0.028, 0.031, 0.034, 0.037, 0.04, 0.043, 0.046, 0.0, 0.051,
                0.053, 0.055, 0.057, 0.059, 0.06, 0.062, 0.063, 0.064, 0.065, 0.066, 0.067, 0.068,
                0.068, 0.069, 0.069, 0.07, 0.07, 0.07, 0.07, 0.07, 0.07, 0.07, 0.07, 0.07,
                0.07, 0.07, 0.07, 0.07, 0.07, 0.07, 0.07, 0.07, 0.07, 0.07, 0.07]
th_op2_blue = [0.0, 0.005, 0.01, 0.015, 0.02, 0.026, 0.032, 0.038, 0.044, 0.05, 0.055, 0.06,
               0.065, 0.07, 0.074, 0.078, 0.082, 0.085, 0.088, 0.09, 0.092, 0.094, 0.095, 0.096,
               0.097, 0.098, 0.098, 0.099, 0.099, 0.1, 0.37, 0.1, 0.1, 0.1, 0.1, 0.1,
               0.1, 0.1, 0.1, 0.1, 0.1, 0.1, 0.1, 0.1, 0.1, 0.1, 0.1]
th_op2_black = 0.09

th_op3_red = [0.63, 0.635, 0.845, 0.655, 0.655, 0.655, 0.65, 0.64, 0.63, 0.62, 0.61, 0.598,
              0.585, 0.572, 0.56, 0.547, 0.535, 0.522, 0.51, 0.5, 0.49, 0.482, 0.475, 0.467,
              0.46, 0.452, 0.445, 0.437, 0.43, 0.423, 0.417, 0.411, 0.405, 0.4, 0.395, 0.39,
              0.385, 0.38, 0.375, 0.37, 0.365, 0.36, 0.355, 0.35, 0.345, 0.34, 0.335]
th_op3_green = [0.44, 0.435, 0.43, 0.423, 0.415, 0.403, 0.39, 0.375, 0.36, 0.34, 0.175, 0.28,
                0.27, 0.258, 0.245, 0.232, 0.22, 0.207, 0.195, 0.185, 0.175, 0.167, 0.16, 0.152,
                0.145, 0.14, 0.135, 0.13, 0.125, 0.121, 0.117, 0.113, 0.11, 0.107, 0.104, 0.102,
                0.1, 0.098, 0.096, 0.094, 0.09, 0.088, 0.086, 0.084, 0.082, 0.081, 0.08]
th_op3_blue = [0.29, 0.275, 0.26, 0.245, 0.23, 0.215, 0.2, 0.185, 0.17, 0.158, 0.145, 0.13,
               0.115, 0.1, 0.085, 0.07, 0.055, 0.042, 0.03, 0.018, 0.01, 0.005, 0.01, 0.015,
               0.02, 0.027, 0.035, 0.04, 0.045, 0.05, 0.0, 0.06, 0.062, 0.064, 0.066, 0.068,
               0.07, 0.072, 0.073, 0.074, 0.075, 0.076, 0.077, 0.078, 0.079, 0.08, 0.08]
th_op3_black = 0.135

th_op4_red = [0.10, 0.06, 0.0, 0.04, 0.05, 0.07, 0.09, 0.12, 0.15, 0.18, 0.21, 0.24,
              0.265, 0.29, 0.31, 0.33, 0.345, 0.36, 0.375, 0.387, 0.4, 0.41, 0.42, 0.43,
              0.44, 0.448, 0.456, 0.463, 0.47, 0.477, 0.483, 0.489, 0.495, 0.5, 0.505, 0.51,
              0.515, 0.519, 0.523, 0.527, 0.531, 0.535, 0.538, 0.541, 0.544, 0.547, 0.55]
th_op4_green = [0.19, 0.21, 0.23, 0.25, 0.265, 0.28, 0.292, 0.303, 0.313, 0.322, 0.20, 0.337,
                0.343, 0.348, 0.353, 0.357, 0.361, 0.364, 0.367, 0.37, 0.372, 0.375, 0.377, 0.379,
                0.381, 0.383, 0.384, 0.386, 0.387, 0.388, 0.389, 0.39, 0.391, 0.392, 0.393, 0.394,
                0.395, 0.395, 0.396, 0.397, 0.397, 0.398, 0.398, 0.399, 0.399, 0.4, 0.4]
th_op4_blue = [0.32, 0.322, 0.324, 0.325, 0.326, 0.327, 0.328, 0.329, 0.33, 0.33, 0.33, 0.33,
               0.33, 0.33, 0.33, 0.33, 0.33, 0.33, 0.33, 0.33, 0.33, 0.33, 0.33, 0.33,
               0.33, 0.33, 0.33, 0.33, 0.33, 0.33, 0.70, 0.33, 0.33, 0.33, 0.33, 0.33,
               0.33, 0.33, 0.33, 0.33, 0.33, 0.33, 0.33, 0.33, 0.33, 0.33, 0.33]
th_op4_black = 0.345

th_op5_red = [0.10, 0.08, 0.0, 0.07, 0.065, 0.062, 0.06, 0.06, 0.06, 0.06, 0.06, 0.06,
              0.06, 0.059, 0.058, 0.057, 0.056, 0.055, 0.053, 0.051, 0.05, 0.048, 0.046, 0.044,
              0.042, 0.04, 0.038, 0.037, 0.035, 0.034, 0.033, 0.032, 0.031, 0.03, 0.029, 0.028,
              0.027, 0.026, 0.025, 0.024, 0.023, 0.022, 0.021, 0.02, 0.02, 0.02, 0.02]
th_op5_green = [0.10, 0.095, 0.09, 0.085, 0.08, 0.075, 0.07, 0.066, 0.062, 0.058, 0.565, 0.052,
                0.05, 0.048, 0.046, 0.044, 0.042, 0.04, 0.038, 0.037, 0.036, 0.035, 0.034, 0.033,
                0.032, 0.031, 0.03, 0.03, 0.029, 0.029, 0.028, 0.028, 0.027, 0.027, 0.026, 0.026,
                0.025, 0.025, 0.025, 0.024, 0.024, 0.024, 0.023, 0.023, 0.023, 0.022, 0.022]
th_op5_blue = [0.06, 0.058, 0.056, 0.054, 0.052, 0.05, 0.049, 0.048, 0.047, 0.046, 0.045, 0.045,
               0.044, 0.044, 0.043, 0.043, 0.042, 0.042, 0.042, 0.041, 0.041, 0.041, 0.04, 0.04,
               0.04, 0.04, 0.04, 0.04, 0.04, 0.04, 0.81, 0.04, 0.04, 0.04, 0.04, 0.04,
               0.04, 0.04, 0.04, 0.04, 0.04, 0.04, 0.04, 0.04, 0.04, 0.04, 0.04]
th_op5_black = 0.05

row_labels = ["g.s.", "1st.", "2nd.", "3rd.", "4th."]
col_labels = ["op 1", "op 2", "op 3", "op 4", "op 5"]

panels = [
    [(gs_op1_red, gs_op1_green, gs_op1_blue, gs_op1_black),
     (gs_op2_red, gs_op2_green, gs_op2_blue, gs_op2_black),
     (gs_op3_red, gs_op3_green, gs_op3_blue, gs_op3_black),
     (gs_op4_red, gs_op4_green, gs_op4_blue, gs_op4_black),
     (gs_op5_red, gs_op5_green, gs_op5_blue, gs_op5_black)],
    [(st_op1_red, st_op1_green, st_op1_blue, st_op1_black),
     (st_op2_red, st_op2_green, st_op2_blue, st_op2_black),
     (st_op3_red, st_op3_green, st_op3_blue, st_op3_black),
     (st_op4_red, st_op4_green, st_op4_blue, st_op4_black),
     (st_op5_red, st_op5_green, st_op5_blue, st_op5_black)],
    [(nd_op1_red, nd_op1_green, nd_op1_blue, nd_op1_black),
     (nd_op2_red, nd_op2_green, nd_op2_blue, nd_op2_black),
     (nd_op3_red, nd_op3_green, nd_op3_blue, nd_op3_black),
     (nd_op4_red, nd_op4_green, nd_op4_blue, nd_op4_black),
     (nd_op5_red, nd_op5_green, nd_op5_blue, nd_op5_black)],
    [(rd_op1_red, rd_op1_green, rd_op1_blue, rd_op1_black),
     (rd_op2_red, rd_op2_green, rd_op2_blue, rd_op2_black),
     (rd_op3_red, rd_op3_green, rd_op3_blue, rd_op3_black),
     (rd_op4_red, rd_op4_green, rd_op4_blue, rd_op4_black),
     (rd_op5_red, rd_op5_green, rd_op5_blue, rd_op5_black)],
    [(th_op1_red, th_op1_green, th_op1_blue, th_op1_black),
     (th_op2_red, th_op2_green, th_op2_blue, th_op2_black),
     (th_op3_red, th_op3_green, th_op3_blue, th_op3_black),
     (th_op4_red, th_op4_green, th_op4_blue, th_op4_black),
     (th_op5_red, th_op5_green, th_op5_blue, th_op5_black)],
]

sns.set_theme(style="white")
plt.rcParams['font.family'] = ['Open Sans', 'DejaVu Sans']

W, H = 818, 704
fig = plt.figure(figsize=(W / 100, H / 100), dpi=100)

col_left = [33, 190, 349, 507, 666]
row_top = [2, 139, 276, 412, 549]
pw, ph = 148, 124

colors = {"red": "#ff1f1f", "green": "#2e8b22", "blue": "#1c3cff"}
fmt = FuncFormatter(lambda v, p: "0" if abs(v) < 1e-9 else ("1" if abs(v - 1) < 1e-9 else f"{v:.1f}"))

for r in range(5):
    for c in range(5):
        red, green, blue, black = panels[r][c]
        ax = fig.add_axes([col_left[c] / W, 1 - (row_top[r] + ph) / H, pw / W, ph / H])
        df = pd.DataFrame({"t": t * 3,
                           "v": red + green + blue,
                           "s": ["red"] * 47 + ["green"] * 47 + ["blue"] * 47})
        sns.scatterplot(data=df, x="t", y="v", hue="s", palette=colors, s=9,
                        linewidth=0, legend=False, ax=ax, zorder=3)
        ax.axhline(black, color="black", lw=2.2, zorder=4)
        ax.set_xlim(0, 46.8)
        ax.set_ylim(0, 1)
        ax.xaxis.set_major_locator(MultipleLocator(4))
        ax.xaxis.set_minor_locator(MultipleLocator(1))
        ax.yaxis.set_major_locator(MultipleLocator(0.1))
        ax.yaxis.set_minor_locator(MultipleLocator(0.025))
        ax.yaxis.set_major_formatter(fmt)
        ax.tick_params(which="both", direction="in", top=True, right=True,
                       bottom=True, left=True, width=0.5, colors="#333333",
                       labelsize=3.2, pad=1)
        ax.tick_params(which="major", length=2.2)
        ax.tick_params(which="minor", length=1.2)
        for sp in ax.spines.values():
            sp.set_linewidth(1.6)
            sp.set_color("black")
        ax.set_xlabel("t", fontsize=3.5, style="italic", labelpad=0.5)
        ax.set_ylabel("")

for r, lab in enumerate(row_labels):
    fig.text(15 / W, 1 - (row_top[r] + 60) / H, lab, fontsize=9.5, ha="center", va="center")
for c, lab in enumerate(col_labels):
    fig.text((col_left[c] + 76) / W, 1 - 690 / H, lab, fontsize=9.5, ha="center", va="center")

fig.savefig("out.png", dpi=100)
